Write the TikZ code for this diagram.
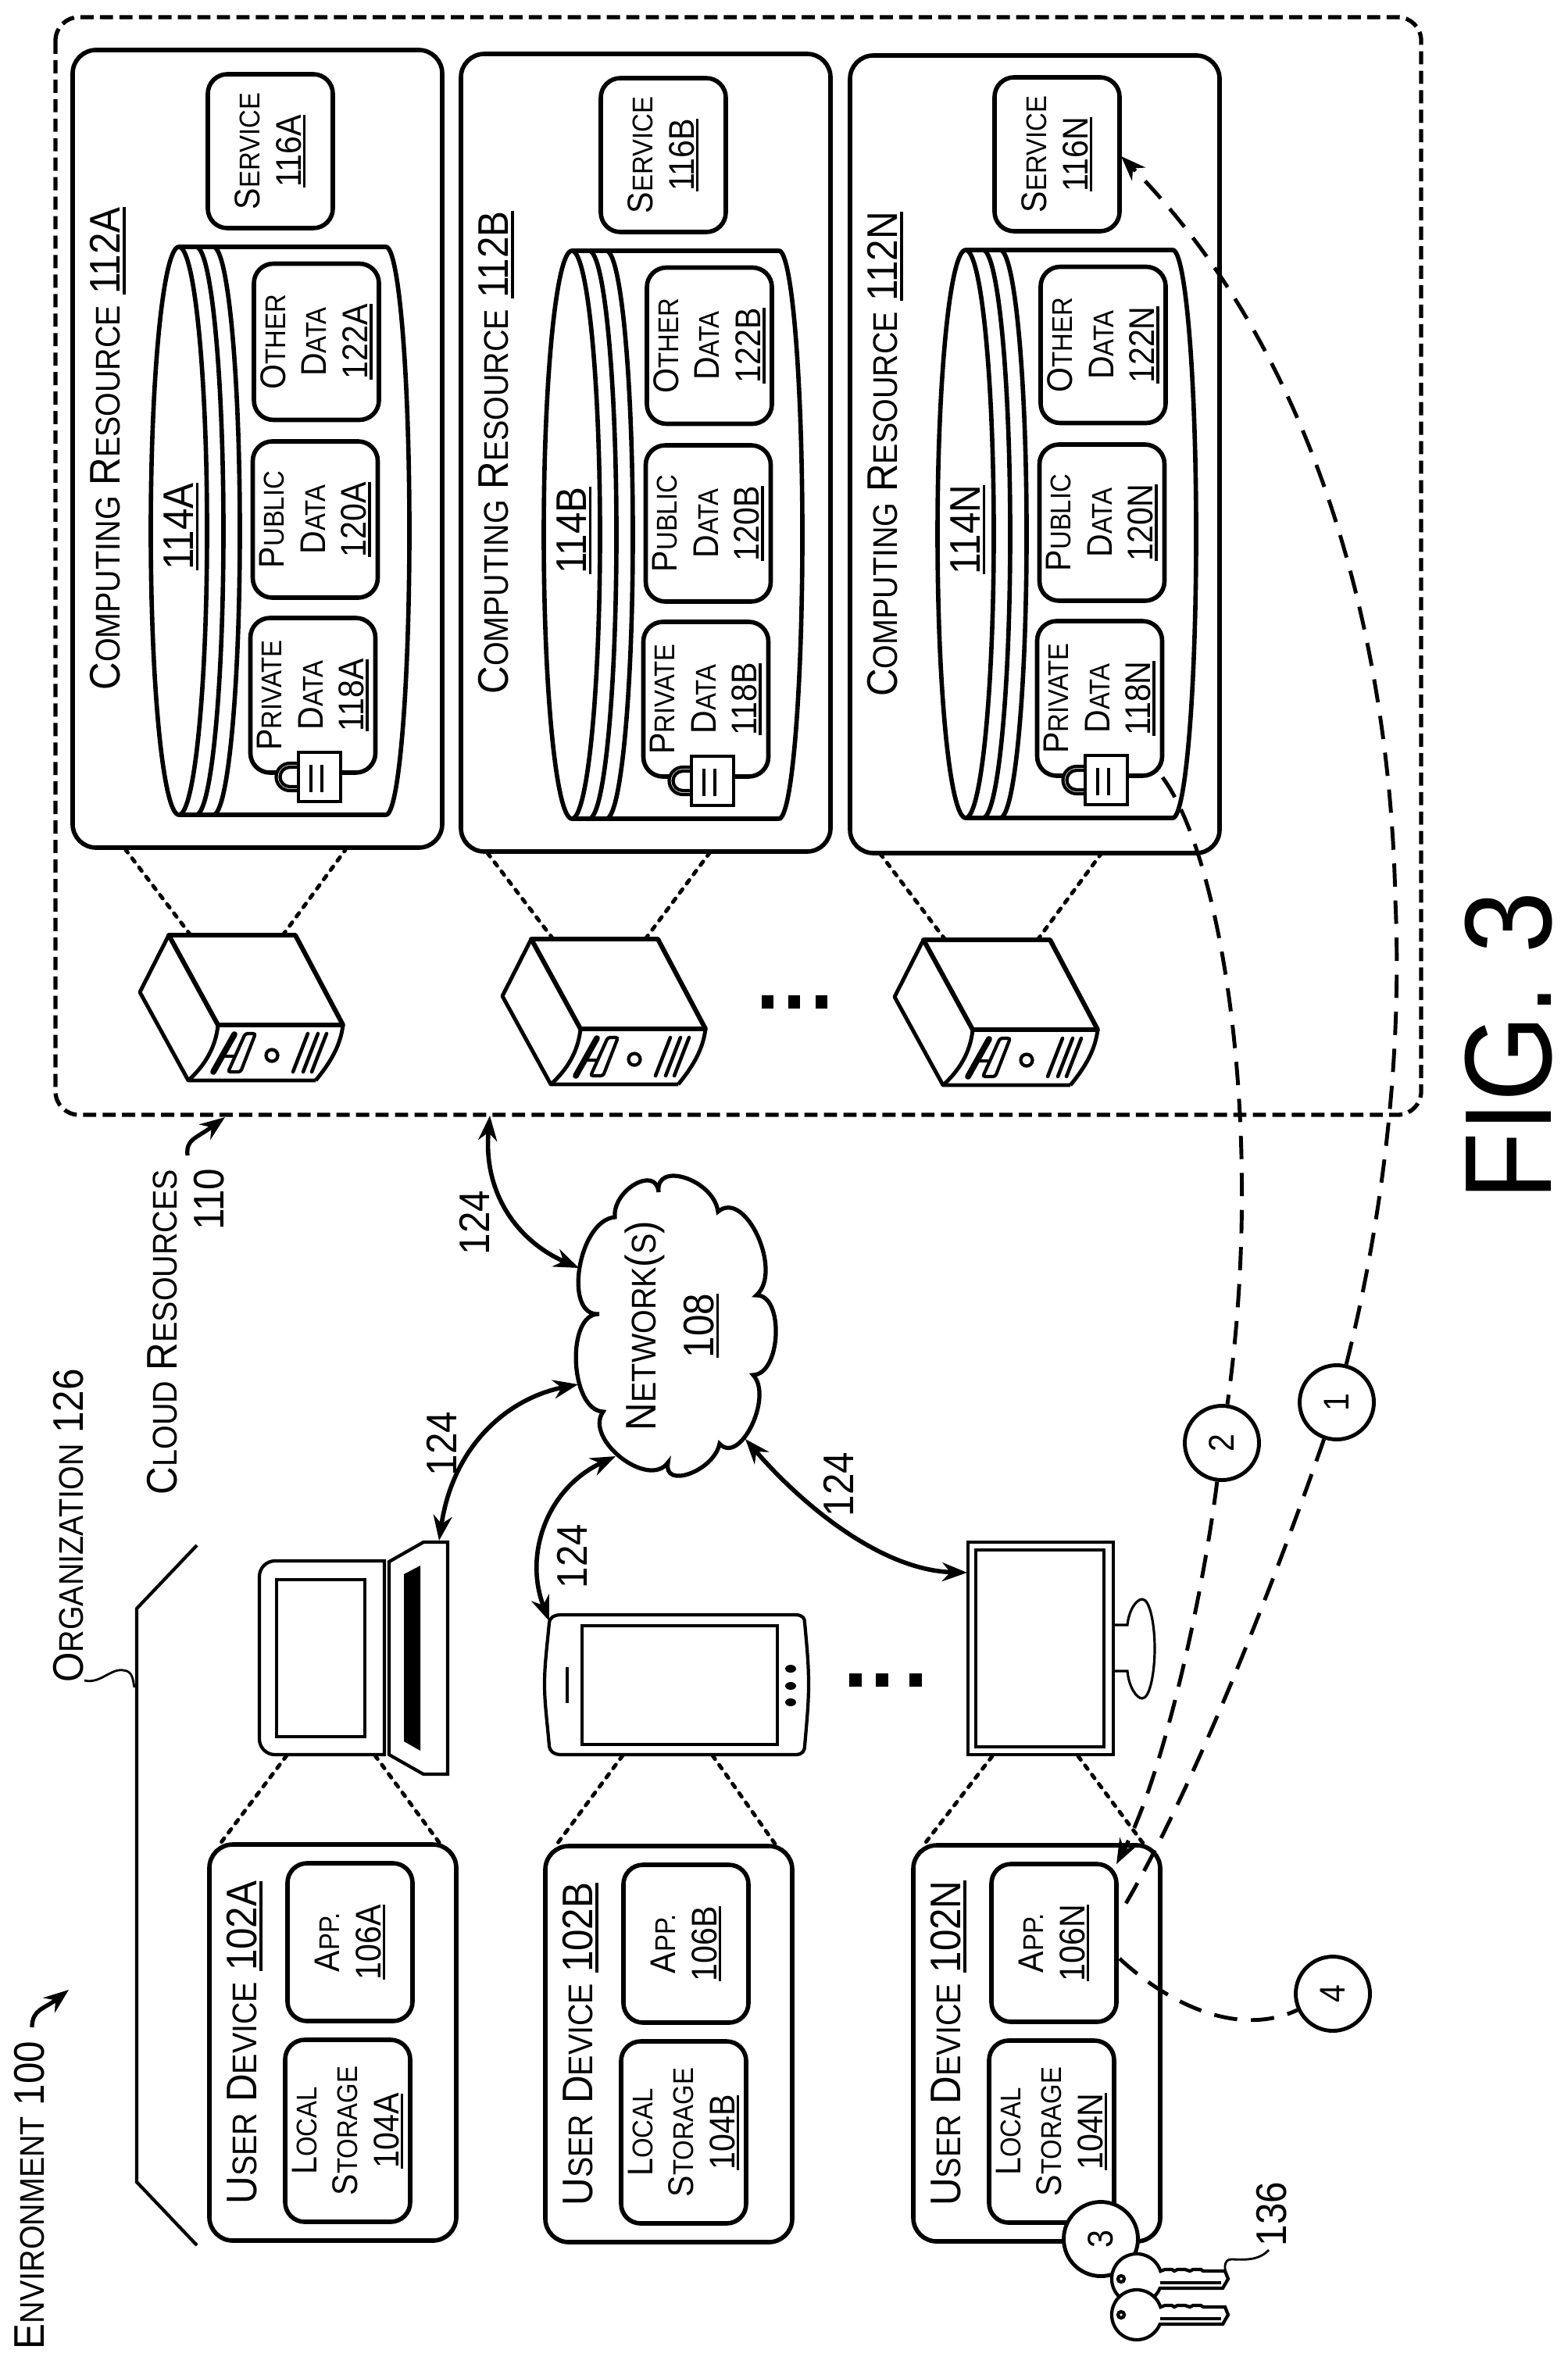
\documentclass[tikz,border=0pt]{standalone}
\usepackage{fontspec}
\setmainfont[FakeStretch=0.9]{Liberation Sans}
\usepackage{tikz}
\usetikzlibrary{arrows.meta, shapes}

\newlength{\smsize}
\newcommand{\smc}[1]{{\setlength{\smsize}{0.8em}\fontsize{\smsize}{\smsize}\selectfont #1}}
\newcommand{\underref}[1]{\sbox{0}{#1}\leavevmode\rlap{\rule[-0.13em]{\wd0}{1pt}}\usebox{0}}
\newcommand{\titlefont}{\fontsize{15.6}{18}\selectfont}
\newcommand{\datafont}{\fontsize{13}{15}\selectfont}

\tikzstyle{panel} = [draw, rounded corners=0.3cm, rotate=90, line width=1.6pt, inner sep=0]
\tikzstyle{databox} = [panel, rounded corners=0.25cm, align=center, font=\datafont, minimum width=2cm, minimum height=1.6cm]
\tikzstyle{tag} = [rotate=90, align=center, font=\titlefont, inner sep=0]
\tikzstyle{stepmark} = [circle, draw, fill=white, rotate=90, line width=1.4pt, font=\datafont, minimum size=0.95cm, inner sep=0]
\tikzstyle{squaredot} = [fill=black, minimum width=0.15cm, minimum height=0.17cm, inner sep=0]
\tikzstyle{thin line} = [line width=1.2pt]
\tikzstyle{link} = [line width=1.6pt, <->]
\tikzstyle{flow} = [line width=1.4pt, dash pattern=on 8.5pt off 5pt]
\tikzstyle{zoomline} = [line width=1.4pt, line cap=round, dash pattern=on 1.6pt off 2.6pt]

\newcommand{\resource}[5]{
	\node (Res#1) [panel, minimum width=10.21cm, minimum height=4.73cm] at (#2+2.365, #3-5.105) {};
	\node (ResTitle#1) [tag] at (#2+0.45, #3-5.105) {C\smc{OMPUTING} R\smc{ESOURCE} \underref{112#1}};
	\begin{scope}[shift={(#4, #5)}]
		\node (Service#1) [databox, minimum width=1.97cm] at (1.53, 1.225) {S\smc{ERVICE}\\\underref{116#1}};
		% cylinder
		\draw [line width=1.6pt] (0.36, 0) -- (3.01, 0) arc[start angle=90, end angle=-90, x radius=0.30, y radius=3.635] -- (0.36, -7.27);
		\draw [line width=1.6pt] (0.36, -3.635) ellipse [x radius=0.36, y radius=3.635];
		\draw [line width=1.6pt] (0.58, 0) arc[start angle=90, end angle=-90, x radius=0.35, y radius=3.635];
		\draw [line width=1.6pt] (0.80, 0) arc[start angle=90, end angle=-90, x radius=0.34, y radius=3.635];
		\node (Store#1) [tag] at (0.39, -3.58) {\underref{114#1}};
		\node (Other#1) [databox] at (2.12, -1.215) {O\smc{THER}\\D\smc{ATA}\\\underref{122#1}};
		\node (Public#1) [databox] at (2.105, -3.49) {P\smc{UBLIC}\\D\smc{ATA}\\\underref{120#1}};
		\node (Private#1) [databox, minimum width=1.98cm] at (2.075, -5.74) {P\smc{RIVATE}\\D\smc{ATA}\\\underref{118#1}};
		% lock
		\draw [thin line, fill=white] (1.90, -6.61) -- (1.78, -6.61) arc[start angle=90, end angle=270, radius=0.175] -- (1.90, -6.96);
		\draw [thin line] (1.90, -6.66) -- (1.78, -6.66) arc[start angle=90, end angle=270, radius=0.125] -- (1.90, -6.91);
		\node (Lock#1) [draw, fill=white, thin line, minimum width=0.54cm, minimum height=0.63cm, inner sep=0] at (2.16, -6.785) {};
		\draw [thin line] (2.05, -6.63) -- (2.05, -6.98);
		\draw [thin line] (2.19, -6.63) -- (2.19, -6.98);
	\end{scope}
}

\newcommand{\server}[3]{
	\begin{scope}[shift={(#2, #3)}]
		\coordinate (Server#1L) at (0.28, 0);
		\coordinate (Server#1R) at (1.46, 0);
		\draw [line width=1.7pt, line join=round] (0, 0) -- (1.62, 0) -- (2.23, -1.15) -- (0.63, -1.15) -- cycle;
		\draw [line width=1.4pt, line join=round] (0, 0) -- (-0.37, -0.73) -- (0.25, -1.86) -- (1.88, -1.86);
		\draw [line width=1.4pt] (0.63, -1.15) .. controls (0.60, -1.45) and (0.45, -1.68) .. (0.25, -1.86);
		\draw [line width=1.4pt] (2.23, -1.15) .. controls (2.20, -1.40) and (2.08, -1.62) .. (1.88, -1.86);
		% front panel
		\draw [line width=2.2pt, line cap=round] (0.84, -1.27) -- (0.57, -1.75);
		\draw [thin line, rounded corners=0.03cm] (0.98, -1.26) -- (1.11, -1.26) -- (0.92, -1.75) -- (0.76, -1.75) -- cycle;
		\draw [thin line] (0.68, -1.55) -- (0.85, -1.55);
		\draw [thin line] (1.32, -1.54) circle (0.075);
		\draw [line width=1.3pt, line cap=round] (1.78, -1.26) -- (1.59, -1.75);
		\draw [line width=1.3pt, line cap=round] (1.91, -1.26) -- (1.72, -1.75);
		\draw [line width=1.3pt, line cap=round] (2.02, -1.26) -- (1.83, -1.75);
	\end{scope}
}

\newcommand{\userdevice}[3]{
	\begin{scope}[shift={(#2, #3)}]
		\node (Device#1) [panel, minimum width=5.07cm, minimum height=3.16cm] at (1.58, -2.535) {};
		\node (DeviceTitle#1) [tag] at (0.45, -2.535) {U\smc{SER} D\smc{EVICE} \underref{102#1}};
		\node (Storage#1) [databox, minimum width=2.33cm] at (1.77, -3.665) {L\smc{OCAL}\\S\smc{TORAGE}\\\underref{104#1}};
		\node (App#1) [databox, minimum width=2.02cm] at (1.80, -1.25) {A\smc{PP.}\\\underref{106#1}};
		\coordinate (Device#1L) at (0.13, 0);
		\coordinate (Device#1R) at (2.96, 0);
	\end{scope}
}

\newcommand{\keyicon}[2]{
	\begin{scope}[shift={(#1, #2)}]
		\draw [thin line, fill=white] (0.304, 0.099) arc[start angle=18, end angle=338, radius=0.32] -- (1.10, -0.12) -- (1.17, 0) -- (1.13, 0.10) -- (0.85, 0.10) -- (0.82, 0.12) -- (0.72, 0.12) -- (0.68, 0.10) -- (0.62, 0.12) -- (0.52, 0.12) -- (0.48, 0.10) -- (0.45, 0.12) -- (0.36, 0.12) -- cycle;
		\draw [thin line] (0.30, -0.05) -- (1.08, -0.05);
		\draw [thin line] (-0.20, 0) circle (0.04);
	\end{scope}
}

\begin{document}
\begin{tikzpicture}[>={Stealth[length=0.32cm, width=0.24cm]}]
	\useasboundingbox (0, 0) rectangle (20.06, -30.26);

	% cloud resources
	\draw [rounded corners=0.3cm, line width=1.5pt, dash pattern=on 4.8pt off 2.3pt] (0.71, -0.22) rectangle (18.19, -14.27);
	\resource{A}{0.93}{-0.64}{1.93}{-3.16}
	\resource{B}{5.90}{-0.69}{6.96}{-3.21}
	\resource{N}{10.88}{-0.71}{12.00}{-3.20}
	\server{A}{2.16}{-11.97}
	\server{B}{6.80}{-12.02}
	\server{N}{11.82}{-12.03}
	\coordinate (ResAL) at (1.61, -10.88);
	\coordinate (ResAR) at (4.42, -10.88);
	\coordinate (ResBL) at (6.24, -10.92);
	\coordinate (ResBR) at (9.08, -10.92);
	\coordinate (ResNL) at (11.26, -10.92);
	\coordinate (ResNR) at (14.10, -10.92);
	\draw [zoomline] (ServerAL) -- (ResAL);
	\draw [zoomline] (ServerAR) -- (ResAR);
	\draw [zoomline] (ServerBL) -- (ResBL);
	\draw [zoomline] (ServerBR) -- (ResBR);
	\draw [zoomline] (ServerNL) -- (ResNL);
	\draw [zoomline] (ServerNR) -- (ResNR);
	\node (ServerDotA) [squaredot] at (9.82, -12.82) {};
	\node (ServerDotB) [squaredot] at (10.16, -12.82) {};
	\node (ServerDotC) [squaredot] at (10.51, -12.82) {};

	% labels
	\node (Environment) [tag] at (0.38, -28.10) {E\smc{NVIRONMENT} 100};
	\coordinate (EnvTail) at (0.41, -25.95);
	\coordinate (EnvTip) at (0.88, -25.47);
	\draw [line width=1.5pt, ->] (EnvTail) .. controls (0.41, -25.72) and (0.56, -25.72) .. (EnvTip);
	\node (Organization) [tag] at (0.88, -19.53) {O\smc{RGANIZATION} 126};
	\node (CloudLabel) [tag] at (2.08, -17.05) {C\smc{LOUD} R\smc{ESOURCES}};
	\node (CloudNum) [tag] at (2.68, -15.35) {110};
	\coordinate (CloudTail) at (2.40, -14.79);
	\coordinate (CloudTip) at (2.88, -14.30);
	\draw [line width=1.5pt, ->] (CloudTail) .. controls (2.38, -14.58) and (2.50, -14.58) .. (CloudTip);
	\coordinate (OrgTop) at (2.52, -19.78);
	\coordinate (OrgBottom) at (2.52, -28.74);
	\draw [thin line] (OrgTop) -- (1.75, -20.59) -- (1.75, -27.93) -- (OrgBottom);
	\draw [line width=0.8pt] (1.08, -21.51) .. controls (1.28, -21.56) and (1.42, -21.35) .. (1.58, -21.38) .. controls (1.70, -21.39) and (1.70, -21.50) .. (1.72, -21.60);

	% network
	\draw [line width=1.5pt] (7.67, -16.82) .. controls (7.20, -16.86) and (7.40, -15.62) .. (7.87, -15.58)
		.. controls (7.84, -15.23) and (8.40, -14.91) .. (8.43, -15.26)
		.. controls (8.38, -14.85) and (9.14, -15.10) .. (9.19, -15.51)
		.. controls (9.54, -15.21) and (10.03, -16.28) .. (9.68, -16.58)
		.. controls (10.04, -16.57) and (10.00, -17.59) .. (9.64, -17.60)
		.. controls (9.90, -17.88) and (9.47, -18.76) .. (9.21, -18.48)
		.. controls (9.14, -18.83) and (8.48, -19.07) .. (8.55, -18.72)
		.. controls (8.30, -19.07) and (7.47, -18.42) .. (7.72, -18.07)
		.. controls (7.29, -18.05) and (7.24, -16.80) .. (7.67, -16.82) -- cycle;
	\node (Network) [tag] at (8.60, -16.97) {N\smc{ETWORK}(\smc{S})\\[3pt]\underref{108}};

	% user devices
	\userdevice{A}{2.68}{-23.61}
	\userdevice{B}{6.98}{-23.63}
	\userdevice{N}{11.69}{-23.62}

	% laptop
	\draw [thin line] (4.92, -19.98) [rounded corners=0.2cm] -- (3.32, -19.98) -- (3.32, -22.46) [sharp corners] -- (4.92, -22.46) -- cycle;
	\draw [thin line] (3.54, -20.22) rectangle (4.67, -22.23);
	\draw [thin line] (4.98, -19.99) -- (5.42, -19.74) -- (5.73, -19.74) -- (5.73, -22.71) -- (5.42, -22.71) -- (4.98, -22.46) -- cycle;
	\fill (5.17, -20.15) -- (5.38, -20.04) -- (5.38, -22.41) -- (5.17, -22.29) -- cycle;
	\coordinate (LaptopL) at (3.67, -22.47);
	\coordinate (LaptopR) at (4.80, -22.47);
	\coordinate (LaptopIn) at (5.62, -19.72);

	% phone
	\draw [thin line] (7.18, -20.67) -- (10.18, -20.67) .. controls (10.28, -20.67) and (10.30, -20.72) .. (10.30, -20.77)
		.. controls (10.33, -21.10) and (10.35, -21.30) .. (10.35, -21.56)
		.. controls (10.35, -21.80) and (10.33, -22.00) .. (10.30, -22.35)
		.. controls (10.30, -22.40) and (10.28, -22.46) .. (10.18, -22.46) -- (7.18, -22.46)
		.. controls (7.08, -22.46) and (7.03, -22.40) .. (7.03, -22.35)
		.. controls (7.00, -22.00) and (6.97, -21.80) .. (6.97, -21.56)
		.. controls (6.97, -21.30) and (7.00, -21.10) .. (7.03, -20.77)
		.. controls (7.03, -20.72) and (7.08, -20.67) .. (7.18, -20.67) -- cycle;
	\draw [thin line] (7.45, -20.81) rectangle (9.95, -22.33);
	\draw [line width=0.9pt] (7.26, -21.34) -- (7.26, -21.80);
	\fill (10.12, -21.36) ellipse [x radius=0.07, y radius=0.05];
	\fill (10.12, -21.58) ellipse [x radius=0.07, y radius=0.05];
	\fill (10.12, -21.79) ellipse [x radius=0.07, y radius=0.05];
	\coordinate (PhoneL) at (7.97, -22.47);
	\coordinate (PhoneR) at (9.12, -22.47);
	\coordinate (PhoneIn) at (7.03, -20.75);

	% monitor
	\node (Monitor) [draw, thin line, minimum width=1.86cm, minimum height=2.72cm, inner sep=0] at (13.32, -21.10) {};
	\draw [line width=1.3pt] (12.49, -19.84) rectangle (14.13, -22.36);
	\draw [line width=0.9pt] (14.25, -20.80) -- (14.43, -20.80) .. controls (14.45, -20.60) and (14.55, -20.47) .. (14.62, -20.47)
		.. controls (14.72, -20.47) and (14.78, -20.80) .. (14.78, -21.10)
		.. controls (14.78, -21.40) and (14.72, -21.74) .. (14.62, -21.74)
		.. controls (14.55, -21.74) and (14.45, -21.60) .. (14.43, -21.39) -- (14.25, -21.39);
	\coordinate (MonitorL) at (12.70, -22.48);
	\coordinate (MonitorR) at (13.80, -22.48);
	\coordinate (MonitorIn) at (12.38, -20.13);

	\draw [zoomline] (LaptopL) -- (DeviceAL);
	\draw [zoomline] (LaptopR) -- (DeviceAR);
	\draw [zoomline] (PhoneL) -- (DeviceBL);
	\draw [zoomline] (PhoneR) -- (DeviceBR);
	\draw [zoomline] (MonitorL) -- (DeviceNL);
	\draw [zoomline] (MonitorR) -- (DeviceNR);
	\node (DeviceDotA) [squaredot, minimum width=0.16cm] at (11.72, -21.50) {};
	\node (DeviceDotB) [squaredot, minimum width=0.16cm] at (11.29, -21.50) {};
	\node (DeviceDotC) [squaredot, minimum width=0.16cm] at (10.95, -21.50) {};

	% network links
	\coordinate (NetTop) at (7.41, -16.23);
	\coordinate (NetLeft) at (7.40, -17.72);
	\coordinate (NetBottom) at (7.88, -18.64);
	\coordinate (NetRight) at (9.54, -18.42);
	\coordinate (CloudIn) at (6.27, -14.28);
	\draw [link] (CloudIn) .. controls (6.18, -15.30) and (6.65, -15.90) .. (NetTop);
	\draw [link] (LaptopIn) .. controls (5.80, -18.50) and (6.50, -17.90) .. (NetLeft);
	\draw [link] (PhoneIn) .. controls (6.70, -19.90) and (7.00, -19.05) .. (NetBottom);
	\draw [link] (MonitorIn) .. controls (11.30, -20.10) and (10.30, -19.30) .. (NetRight);
	\node (LinkTagA) [tag] at (6.07, -15.65) {124};
	\node (LinkTagB) [tag] at (5.65, -18.48) {124};
	\node (LinkTagC) [tag] at (7.32, -19.92) {124};
	\node (LinkTagD) [tag] at (10.73, -19.00) {124};

	% steps
	\node (StepOne) [stepmark] at (17.11, -17.95) {1};
	\node (StepTwo) [stepmark] at (15.64, -18.47) {2};
	\node (StepThree) [stepmark] at (14.09, -28.66) {3};
	\node (StepFour) [stepmark] at (17.06, -25.52) {4};
	\keyicon{14.55}{-29.17}
	\keyicon{14.55}{-29.63}
	\node (KeysTag) [tag] at (16.28, -28.34) {136};
	\coordinate (KeysTail) at (16.24, -28.80);
	\coordinate (KeysEnd) at (15.72, -29.17);
	\draw [line width=0.8pt] (KeysTail) .. controls (16.10, -28.95) and (15.90, -28.92) .. (15.76, -28.92) .. controls (15.66, -28.92) and (15.66, -29.05) .. (KeysEnd);

	% dashed flows
	\coordinate (AppNTop) at (14.33, -24.50);
	\coordinate (AppNIn) at (14.29, -23.86);
	\coordinate (AppNSide) at (14.33, -25.07);
	\coordinate (ServiceNIn) at (14.35, -2.00);
	\coordinate (PrivateNOut) at (14.88, -9.95);
	\draw [flow, ->] (StepOne) .. controls (17.70, -15.60) and (17.95, -13.50) .. (17.86, -11.53) .. controls (17.80, -8.50) and (17.00, -4.70) .. (ServiceNIn);
	\draw [flow] (StepOne) .. controls (16.40, -20.00) and (15.30, -22.90) .. (AppNTop);
	\draw [flow] (PrivateNOut) .. controls (15.65, -11.00) and (16.20, -14.50) .. (StepTwo);
	\draw [flow, ->] (StepTwo) .. controls (15.40, -20.40) and (14.90, -22.70) .. (AppNIn);
	\draw [flow] (AppNSide) .. controls (14.90, -25.60) and (15.80, -26.10) .. (StepFour);

	\node (Figure) [rotate=90, font=\fontsize{45}{52}\selectfont, inner sep=0] at (19.31, -13.39) {FIG. 3};
\end{tikzpicture}
\end{document}
